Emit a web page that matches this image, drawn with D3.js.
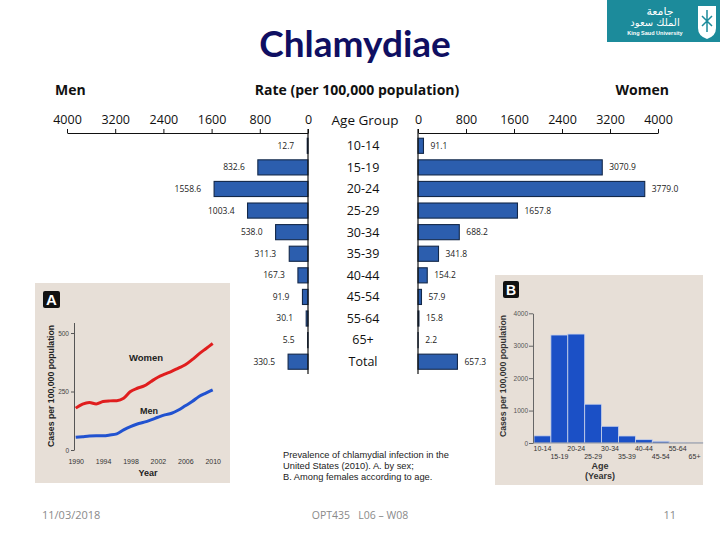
<!DOCTYPE html>
<html><head><meta charset="utf-8">
<script src="https://cdn.jsdelivr.net/npm/d3@7"></script>
<style>body{margin:0;background:#fff}svg{display:block}</style>
</head><body>
<script>
// ---------- data ----------
const ageGroups = ["10-14","15-19","20-24","25-29","30-34","35-39","40-44","45-54","55-64","65+","Total"];
const menRates = [12.7, 832.6, 1558.6, 1003.4, 538.0, 311.3, 167.3, 91.9, 30.1, 5.5, 330.5];
const womenRates = [91.1, 3070.9, 3779.0, 1657.8, 688.2, 341.8, 154.2, 57.9, 15.8, 2.2, 657.3];
const rateTicks = [0, 800, 1600, 2400, 3200, 4000];

const trendYears = [1990,1991,1992,1993,1994,1995,1996,1997,1998,1999,2000,2001,2002,2003,2004,2005,2006,2007,2008,2009,2010];
const trendWomen = [179,196,203,197,207,210,211,221,250,264,274,293,311,324,336,350,364,386,411,433,455];
const trendMen = [54,57,60,61,61,64,69,86,100,111,119,129,140,150,157,171,189,207,229,243,257];
const trendYearTicks = [1990,1994,1998,2002,2006,2010];
const trendRateTicks = [0,250,500];

const femaleAges = ["10-14","15-19","20-24","25-29","30-34","35-39","40-44","45-54","55-64","65+"];
const femaleRates = [220, 3330, 3360, 1196, 515, 216, 103, 52, 21, 4];
const femaleRateTicks = [0,1000,2000,3000,4000];

// ---------- svg ----------
const svg = d3.select("body").append("svg").attr("width",720).attr("height",540);
svg.append("rect").attr("width",720).attr("height",540).attr("fill","#fff");

// title
svg.append("text").attr("x",355).attr("y",57).attr("text-anchor","middle")
  .attr("font-family","Lato, 'Open Sans', sans-serif").attr("font-weight",700)
  .attr("font-size",37).attr("fill","#0f0f62").text("Chlamydiae");

// logo
const logo = svg.append("g");
logo.append("rect").attr("x",607).attr("y",0).attr("width",113).attr("height",42).attr("fill","#1c8b9b");
logo.append("text").attr("x",660).attr("y",15).attr("text-anchor","middle").attr("fill","#fff")
  .attr("font-family","'DejaVu Sans', sans-serif").attr("font-size",11).text("جامعة");
logo.append("text").attr("x",655).attr("y",26).attr("text-anchor","middle").attr("fill","#fff")
  .attr("font-family","'DejaVu Sans', sans-serif").attr("font-size",10).text("الملك سعود");
logo.append("text").attr("x",655).attr("y",35).attr("text-anchor","middle").attr("fill","#fff")
  .attr("font-family","'Liberation Sans', sans-serif").attr("font-size",5.5).attr("font-weight",700).text("King Saud University");
logo.append("path").attr("d","M698,6 L716,6 L716,28 Q716,36 707,39 Q698,36 698,28 Z").attr("fill","#fff");
logo.append("path").attr("d","M707,10 L707,32 M702,16 L712,26 M712,16 L702,26").attr("stroke","#1c8b9b").attr("stroke-width",1.5);

// ---------- main butterfly chart ----------
const mainFont = "'Open Sans', 'Noto Sans', sans-serif";
const xMen = d3.scaleLinear().domain([0,4000]).range([308,67]);
const xWomen = d3.scaleLinear().domain([0,4000]).range([418,658]);
const yRow = d3.scaleBand().domain(ageGroups).range([135,372.5]).paddingInner(0.3).paddingOuter(0.15);
const axisY = 133;

svg.append("text").attr("x",55).attr("y",95).attr("font-family",mainFont).attr("font-weight",700).attr("font-size",14).attr("fill","#111").text("Men");
svg.append("text").attr("x",357).attr("y",95).attr("text-anchor","middle").attr("font-family",mainFont).attr("font-weight",700).attr("font-size",14).attr("fill","#111").text("Rate (per 100,000 population)");
svg.append("text").attr("x",669).attr("y",95).attr("text-anchor","end").attr("font-family",mainFont).attr("font-weight",700).attr("font-size",14).attr("fill","#111").text("Women");

function styleAxis(g){
  g.select(".domain").attr("stroke","#111").attr("stroke-width",1.2);
  g.selectAll(".tick line").attr("stroke","#111");
  g.selectAll(".tick text").attr("font-family",mainFont).attr("font-size",12.5).attr("fill","#111");
}
svg.append("g").attr("transform",`translate(0,${axisY})`)
  .call(d3.axisTop(xMen).tickValues(rateTicks).tickFormat(d3.format("d")).tickSize(4).tickSizeOuter(0).tickPadding(5))
  .call(styleAxis);
svg.append("g").attr("transform",`translate(0,${axisY})`)
  .call(d3.axisTop(xWomen).tickValues(rateTicks).tickFormat(d3.format("d")).tickSize(4).tickSizeOuter(0).tickPadding(5))
  .call(styleAxis);

svg.append("text").attr("x",365).attr("y",125).attr("text-anchor","middle").attr("font-family",mainFont).attr("font-size",13.5).attr("fill","#111").text("Age Group");

const menData = ageGroups.map((g,i)=>({g, v:menRates[i]}));
const womenData = ageGroups.map((g,i)=>({g, v:womenRates[i]}));
const barFill = "#2c5eae", barStroke = "#132849";

svg.append("g").selectAll("rect").data(menData).join("rect")
  .attr("x",d=>xMen(d.v)).attr("y",d=>yRow(d.g)).attr("width",d=>xMen(0)-xMen(d.v)).attr("height",yRow.bandwidth())
  .attr("fill",barFill).attr("stroke",barStroke).attr("stroke-width",1.1);
svg.append("g").selectAll("rect").data(womenData).join("rect")
  .attr("x",xWomen(0)).attr("y",d=>yRow(d.g)).attr("width",d=>xWomen(d.v)-xWomen(0)).attr("height",yRow.bandwidth())
  .attr("fill",barFill).attr("stroke",barStroke).attr("stroke-width",1.1);

const fmt = d3.format(".1f");
svg.append("g").selectAll("text").data(menData).join("text")
  .attr("x",d=>xMen(d.v)-13).attr("y",d=>yRow(d.g)+yRow.bandwidth()/2).attr("dy","0.35em")
  .attr("text-anchor","end").attr("font-family",mainFont).attr("font-size",8.5).attr("fill","#222").text(d=>fmt(d.v));
svg.append("g").selectAll("text").data(womenData).join("text")
  .attr("x",d=>xWomen(d.v)+7).attr("y",d=>yRow(d.g)+yRow.bandwidth()/2).attr("dy","0.35em")
  .attr("text-anchor","start").attr("font-family",mainFont).attr("font-size",8.5).attr("fill","#222").text(d=>fmt(d.v));

svg.append("g").selectAll("text").data(ageGroups).join("text")
  .attr("x",363).attr("y",d=>yRow(d)+yRow.bandwidth()/2).attr("dy","0.35em").attr("text-anchor","middle")
  .attr("font-family",mainFont).attr("font-size",12.5).attr("fill","#111").text(d=>d);

svg.append("line").attr("x1",xMen(0)).attr("x2",xMen(0)).attr("y1",axisY-4).attr("y2",374).attr("stroke","#111").attr("stroke-width",1.2);
svg.append("line").attr("x1",xWomen(0)).attr("x2",xWomen(0)).attr("y1",axisY-4).attr("y2",374).attr("stroke","#111").attr("stroke-width",1.2);

// ---------- inset A ----------
const insetFont = "'Liberation Sans', Arial, sans-serif";
const panelFill = "#e7dfd7";
svg.append("rect").attr("x",35).attr("y",283).attr("width",195).attr("height",200).attr("fill",panelFill);
svg.append("rect").attr("x",43).attr("y",291).attr("width",17).attr("height",17).attr("rx",2).attr("fill","#111");
svg.append("text").attr("x",51.5).attr("y",305).attr("text-anchor","middle").attr("font-family",insetFont).attr("font-weight",700).attr("font-size",15).attr("fill","#fff").text("A");

const xA = d3.scaleLinear().domain([1990,2010]).range([75.7,212.7]);
const yA = d3.scaleLinear().domain([0,545]).range([450,322.5]);
const gA = svg.append("g").attr("transform","translate(74,0)");
gA.call(d3.axisLeft(yA).tickValues(trendRateTicks).tickFormat(d3.format("d")).tickSize(3).tickSizeOuter(0).tickPadding(2));
gA.select(".domain").attr("stroke","#555");
gA.selectAll(".tick line").attr("stroke","#555");
gA.selectAll(".tick text").attr("font-family",insetFont).attr("font-size",6.5).attr("fill","#444");
const gAx = svg.append("g").attr("transform","translate(0,457)");
gAx.call(d3.axisBottom(xA).tickValues(trendYearTicks).tickFormat(d3.format("d")).tickSize(0).tickPadding(2));
gAx.select(".domain").remove();
gAx.selectAll(".tick text").attr("font-family",insetFont).attr("font-size",7).attr("fill","#333");

const lineA = d3.line().x(d=>xA(d[0])).y(d=>yA(d[1])).curve(d3.curveMonotoneX);
svg.append("path").datum(trendYears.map((y,i)=>[y,trendWomen[i]])).attr("d",lineA).attr("fill","none").attr("stroke","#e01e1e").attr("stroke-width",3);
svg.append("path").datum(trendYears.map((y,i)=>[y,trendMen[i]])).attr("d",lineA).attr("fill","none").attr("stroke","#2152d0").attr("stroke-width",3);
svg.append("text").attr("x",146).attr("y",361).attr("text-anchor","middle").attr("font-family",insetFont).attr("font-weight",700).attr("font-size",9.5).attr("fill","#222").text("Women");
svg.append("text").attr("x",149).attr("y",414).attr("text-anchor","middle").attr("font-family",insetFont).attr("font-weight",700).attr("font-size",9).attr("fill","#222").text("Men");
svg.append("text").attr("x",148).attr("y",476).attr("text-anchor","middle").attr("font-family",insetFont).attr("font-weight",700).attr("font-size",9).attr("fill","#222").text("Year");
svg.append("text").attr("transform","translate(54,386) rotate(-90)").attr("text-anchor","middle").attr("font-family",insetFont).attr("font-weight",700).attr("font-size",8.7).attr("fill","#222").text("Cases per 100,000 population");

// ---------- inset B ----------
svg.append("rect").attr("x",495).attr("y",275).attr("width",208).attr("height",210).attr("fill",panelFill);
svg.append("rect").attr("x",503).attr("y",281).attr("width",16).attr("height",17).attr("rx",2).attr("fill","#111");
svg.append("text").attr("x",511).attr("y",295).attr("text-anchor","middle").attr("font-family",insetFont).attr("font-weight",700).attr("font-size",14).attr("fill","#fff").text("B");

const xB = d3.scaleBand().domain(femaleAges).range([534,703]).padding(0);
const yB = d3.scaleLinear().domain([0,4000]).range([443,313.3]);
svg.append("g").selectAll("rect").data(femaleAges.map((a,i)=>({a,v:femaleRates[i]}))).join("rect")
  .attr("x",d=>xB(d.a)).attr("y",d=>yB(d.v)).attr("width",xB.bandwidth()).attr("height",d=>yB(0)-yB(d.v))
  .attr("fill","#1b50c6").attr("stroke","#c9d2ea").attr("stroke-width",0.8);
const gB = svg.append("g").attr("transform","translate(533,0)");
gB.call(d3.axisLeft(yB).tickValues(femaleRateTicks).tickFormat(d3.format("d")).tickSize(4).tickSizeOuter(0).tickPadding(1));
gB.select(".domain").attr("stroke","#666");
gB.selectAll(".tick line").attr("stroke","#666");
gB.selectAll(".tick text").attr("font-family",insetFont).attr("font-size",6.5).attr("fill","#555");
svg.append("line").attr("x1",533).attr("x2",703).attr("y1",yB(0)).attr("y2",yB(0)).attr("stroke","#888").attr("stroke-width",0.8);
svg.append("g").selectAll("text").data(femaleAges).join("text")
  .attr("x",d=>xB(d)+xB.bandwidth()/2).attr("y",(d,i)=>i%2===0?451:459).attr("text-anchor","middle")
  .attr("font-family",insetFont).attr("font-size",7).attr("fill","#333").text(d=>d);
svg.append("text").attr("x",600).attr("y",468.5).attr("text-anchor","middle").attr("font-family",insetFont).attr("font-weight",700).attr("font-size",9).attr("fill","#333").text("Age");
svg.append("text").attr("x",600).attr("y",479).attr("text-anchor","middle").attr("font-family",insetFont).attr("font-weight",700).attr("font-size",9).attr("fill","#333").text("(Years)");
svg.append("text").attr("transform","translate(506,376) rotate(-90)").attr("text-anchor","middle").attr("font-family",insetFont).attr("font-weight",700).attr("font-size",8.7).attr("fill","#333").text("Cases per 100,000 population");

// ---------- caption & footer ----------
const capLines = ["Prevalence of chlamydial infection in the","United States (2010). A. by sex;","B. Among females according to age."];
svg.append("g").selectAll("text").data(capLines).join("text")
  .attr("x",283).attr("y",(d,i)=>458+i*11).attr("font-family",insetFont).attr("font-size",9.3).attr("fill","#222").text(d=>d);

const footFont = "'Open Sans', sans-serif";
svg.append("text").attr("x",42).attr("y",519).attr("font-family",footFont).attr("font-size",11).attr("fill","#8a8a8a").text("11/03/2018");
svg.append("text").attr("x",360).attr("y",519).attr("text-anchor","middle").attr("font-family",footFont).attr("font-size",10.5).attr("fill","#8a8a8a").attr("xml:space","preserve").text("OPT435   L06 – W08");
svg.append("text").attr("x",676).attr("y",519).attr("text-anchor","end").attr("font-family",footFont).attr("font-size",11).attr("fill","#8a8a8a").text("11");
</script>
</body></html>
